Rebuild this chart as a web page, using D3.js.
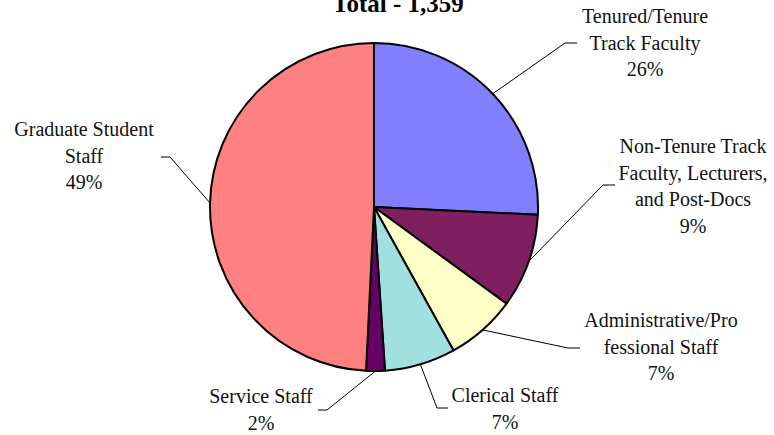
<!DOCTYPE html>
<html>
<head>
<meta charset="utf-8">
<script src="https://cdn.jsdelivr.net/npm/d3@7"></script>
<style>
  body { margin: 0; background: #fff; }
  svg { display: block; font-family: 'Liberation Serif', 'Times New Roman', serif; }
</style>
</head>
<body>
<svg id="chart" width="774" height="435"></svg>
<script>
const title = 'Total - 1,359'

const categories = [
  'Tenured/Tenure Track Faculty',
  'Non-Tenure Track Faculty, Lecturers, and Post-Docs',
  'Administrative/Professional Staff',
  'Clerical Staff',
  'Service Staff',
  'Graduate Student Staff'
]
const counts = [350, 126, 94, 95, 25, 669]
const labelLines = [
  ['Tenured/Tenure', 'Track Faculty'],
  ['Non-Tenure Track', 'Faculty, Lecturers,', 'and Post-Docs'],
  ['Administrative/Pro', 'fessional Staff'],
  ['Clerical Staff'],
  ['Service Staff'],
  ['Graduate Student', 'Staff']
]
const colors = ['#8080ff', '#7f1f5f', '#ffffc8', '#a0e0e0', '#660066', '#ff8080']

// label placement: elbow point, end of the short horizontal, text centre / first baseline
const labelLayout = [
  { elbow: [565, 43], end: [577, 43], tx: 645, ty: 23 },
  { elbow: [603, 185], end: [615, 185], tx: 693, ty: 153 },
  { elbow: [568, 348], end: [580, 348], tx: 661, ty: 327 },
  { elbow: [437, 408], end: [448, 408], tx: 505, ty: 402 },
  { elbow: [327, 410], end: [318, 410], tx: 261, ty: 403 },
  { elbow: [170, 157], end: [161, 157], tx: 84, ty: 136 }
]

const width = 774
const cx = 374
const cy = 207
const radius = 164
const lineHeight = 26.5

const svg = d3.select('#chart')

svg.append('text')
  .attr('x', 398)
  .attr('y', 12)
  .attr('text-anchor', 'middle')
  .style('font-size', '25px')
  .style('font-weight', 'bold')
  .text(title)

const data = categories.map((name, i) => ({ name, value: counts[i], i }))
const total = d3.sum(counts)

const pie = d3.pie().sort(null).value((d) => d.value)
const arc = d3.arc().innerRadius(0).outerRadius(radius)
const arcs = pie(data)

const g = svg.append('g').attr('transform', `translate(${cx}, ${cy})`)

g.selectAll('.slice')
  .data(arcs)
  .enter()
  .append('path')
  .attr('class', 'slice')
  .attr('d', arc)
  .style('fill', (d) => colors[d.data.i])
  .style('stroke', '#000')
  .style('stroke-width', 2)
  .style('stroke-linejoin', 'round')

// leader lines from the slice edge at its mid angle
svg.selectAll('.leader')
  .data(arcs)
  .enter()
  .append('polyline')
  .attr('class', 'leader')
  .attr('points', (d) => {
    const a = (d.startAngle + d.endAngle) / 2
    const sx = cx + Math.sin(a) * radius
    const sy = cy - Math.cos(a) * radius
    const l = labelLayout[d.data.i]
    return [[sx, sy], l.elbow, l.end].map((p) => p.join(',')).join(' ')
  })
  .style('fill', 'none')
  .style('stroke', '#000')
  .style('stroke-width', 1)

const labels = svg.selectAll('.label')
  .data(arcs)
  .enter()
  .append('text')
  .attr('class', 'label')
  .attr('text-anchor', 'middle')
  .style('font-size', '20px')
  .style('fill', '#111')

labels.each(function (d) {
  const l = labelLayout[d.data.i]
  const lines = labelLines[d.data.i].concat([d3.format('.0%')(d.data.value / total)])
  d3.select(this)
    .selectAll('tspan')
    .data(lines)
    .enter()
    .append('tspan')
    .attr('x', l.tx)
    .attr('y', (t, k) => l.ty + k * lineHeight)
    .text((t) => t)
})
</script>
</body>
</html>
